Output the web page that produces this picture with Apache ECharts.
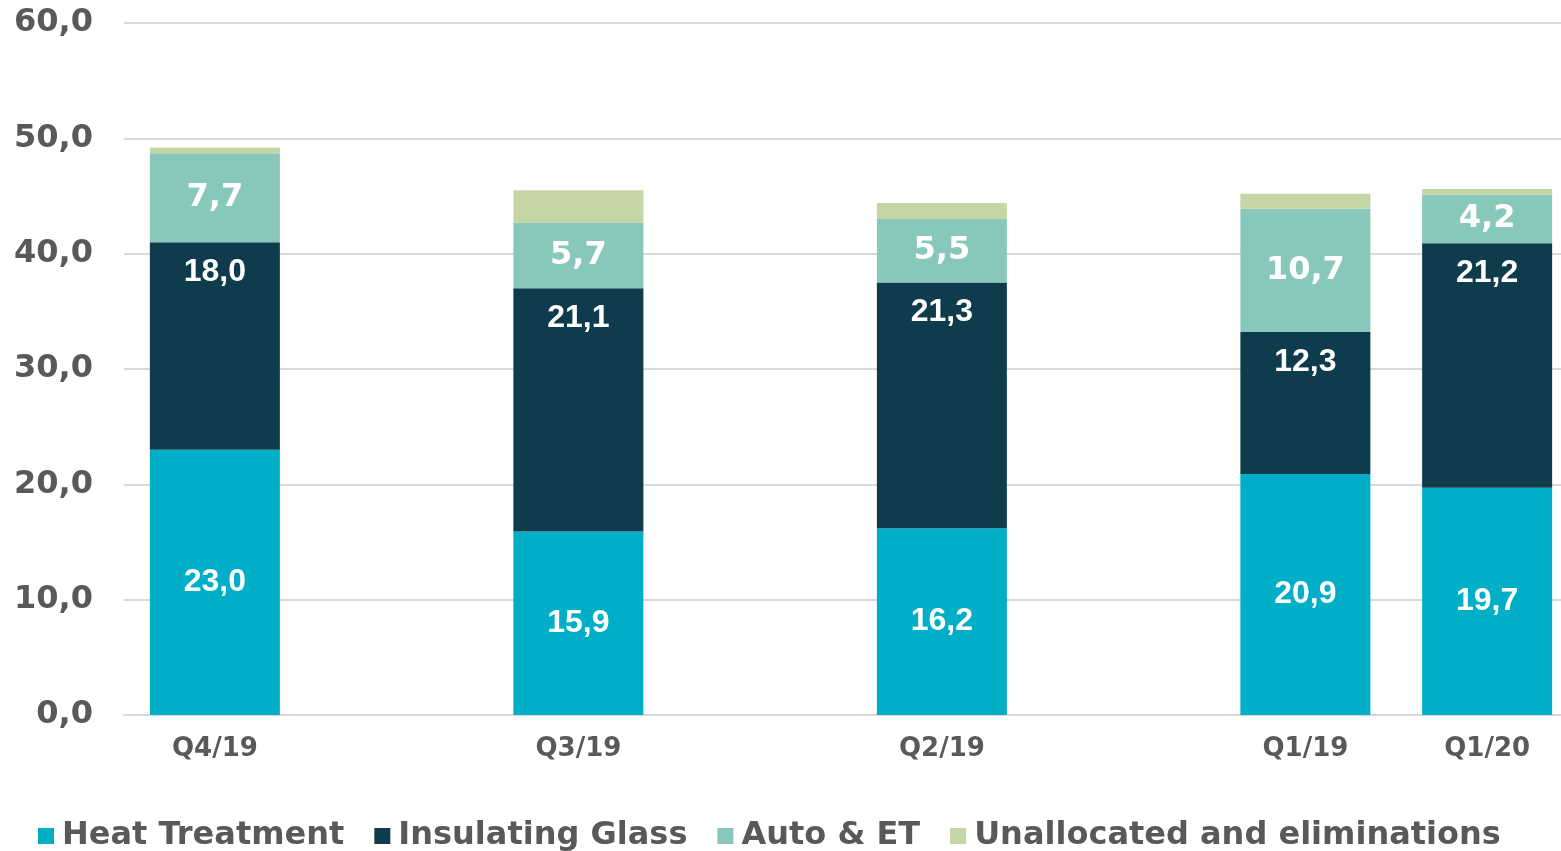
<!DOCTYPE html>
<html lang="en">
<head>
    <meta charset="UTF-8">
    <title>Segments</title>
    <script src="https://cdn.jsdelivr.net/npm/echarts@6/dist/echarts.min.js"></script>
    <style type="text/css">
        html, body {
            margin: 0;
            width: 100%;
            height: 100%;
            background: #fff;
            overflow: hidden;
        }
        /* the source picture is cut off on the right, so the chart runs past the window */
        #chart {
            width: 1578px;
            height: 851px;
        }
    </style>
</head>
<body>
<div id="chart"></div>
<script type="text/javascript">
    // empty slots keep the gaps between the quarters
    var quarters = ['Q4/19', '', 'Q3/19', '', 'Q2/19', '', 'Q1/19', 'Q1/20'];
    var heatTreatment = [23.0, null, 15.9, null, 16.2, null, 20.9, 19.7];
    var insulatingGlass = [18.0, null, 21.1, null, 21.3, null, 12.3, 21.2];
    var autoEt = [7.7, null, 5.7, null, 5.5, null, 10.7, 4.2];
    var unallocated = [0.5, null, 2.8, null, 1.4, null, 1.3, 0.5];
    var yTicks = [0, 10, 20, 30, 40, 50, 60];

    var grey = '#595959';
    var gridGrey = '#d9d9d9';

    function comma(v) {
        return Number(v).toFixed(1).replace('.', ',');
    }

    function barLabel(font, pos, dist) {
        return {
            show: true,
            position: pos,
            distance: dist,
            color: '#fff',
            fontFamily: font,
            fontWeight: 'bold',
            fontSize: 32,
            formatter: function (p) { return comma(p.value); }
        };
    }

    var myChart = echarts.init(document.getElementById('chart'));
    var option = {
        animation: false,
        grid: {
            left: 124,
            right: 0,
            top: 23,
            bottom: 136
        },
        legend: {
            left: 33,
            top: 815,
            itemWidth: 16,
            itemHeight: 16,
            itemGap: 30,
            icon: 'rect',
            textStyle: {
                color: grey,
                fontFamily: 'DejaVu Sans',
                fontWeight: 'bold',
                fontSize: 32,
                padding: [0, 0, 0, 3]
            },
            data: ['Heat Treatment', 'Insulating Glass', 'Auto & ET', 'Unallocated and eliminations']
        },
        xAxis: {
            type: 'category',
            data: quarters,
            axisTick: { show: false },
            axisLine: { lineStyle: { color: gridGrey, width: 2 } },
            axisLabel: {
                interval: 0,
                margin: 21,
                color: grey,
                fontFamily: 'DejaVu Sans',
                fontWeight: 'bold',
                fontSize: 26
            }
        },
        yAxis: {
            type: 'value',
            min: yTicks[0],
            max: yTicks[yTicks.length - 1],
            interval: 10,
            axisLine: { show: false },
            axisTick: { show: false },
            splitLine: { lineStyle: { color: gridGrey, width: 2 } },
            axisLabel: {
                margin: 31,
                color: grey,
                fontFamily: 'DejaVu Sans',
                fontWeight: 'bold',
                fontSize: 32,
                formatter: function (v) { return comma(v); }
            }
        },
        series: [
            {
                name: 'Heat Treatment',
                type: 'bar',
                stack: 'total',
                barWidth: 130,
                itemStyle: { color: '#00afc7' },
                label: barLabel('Liberation Sans', 'inside', 5),
                data: heatTreatment
            },
            {
                name: 'Insulating Glass',
                type: 'bar',
                stack: 'total',
                barWidth: 130,
                itemStyle: { color: '#0e3c4c' },
                label: barLabel('Liberation Sans', 'insideTop', 14),
                data: insulatingGlass
            },
            {
                name: 'Auto & ET',
                type: 'bar',
                stack: 'total',
                barWidth: 130,
                itemStyle: { color: '#88c8ba' },
                label: barLabel('DejaVu Sans', 'inside', 5),
                data: autoEt
            },
            {
                name: 'Unallocated and eliminations',
                type: 'bar',
                stack: 'total',
                barWidth: 130,
                itemStyle: { color: '#c4d6a5' },
                data: unallocated
            }
        ]
    };
    myChart.setOption(option);
</script>
</body>
</html>
